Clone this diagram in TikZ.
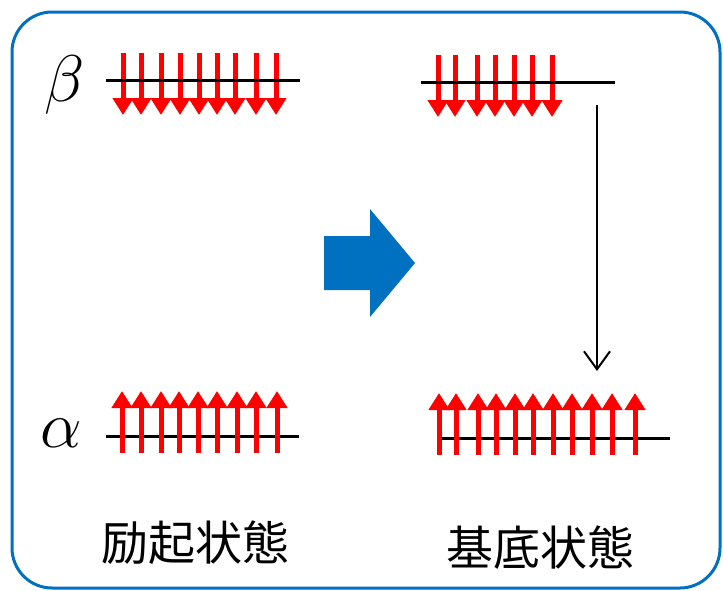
\RequirePackage{fix-cm}
\documentclass[tikz,border=0pt]{standalone}
\usepackage{fontspec}
\newfontfamily\cjk{Noto Sans CJK JP}
\usetikzlibrary{arrows.meta}
\definecolor{frameblue}{HTML}{0070C0}
\begin{document}
\begin{tikzpicture}[x=1pt,y=-1pt,
  spin/.style={red, line width=5pt, -{Triangle[width=20pt,length=17pt]}},
  level/.style={black, line width=3pt},
  lbl/.style={font=\cjk\fontsize{47}{47}\selectfont, inner sep=0pt},
  sym/.style={font=\fontsize{66}{66}\selectfont, inner sep=0pt},
  transition/.style={black, line width=2pt, -{Straight Barb[length=18pt,width=26pt]}}]
\useasboundingbox (0,0) rectangle (723,590);
\draw[frameblue, line width=3pt, rounded corners=40pt] (12,12) rectangle (720,588);

% beta excited level
\foreach \x in {123,141,161,180,199,217,235,256,276}
  \draw[spin] (\x,53) -- (\x,115);
\coordinate (bL1) at (106,80);
\coordinate (bR1) at (300,80);
\draw[level] (bL1) -- (bR1);

% beta ground level
\foreach \x in {438,455,477,495,514,532,552}
  \draw[spin] (\x,55) -- (\x,117);
\coordinate (bL2) at (421,82);
\coordinate (bR2) at (615,82);
\draw[level] (bL2) -- (bR2);

% alpha excited level
\coordinate (aL1) at (106,436);
\coordinate (aR1) at (299,436);
\draw[level] (aL1) -- (aR1);
\foreach \x in {122,141,161,179,198,217,237,256,277}
  \draw[spin] (\x,453) -- (\x,391);

% alpha ground level
\coordinate (aL2) at (441,438);
\coordinate (aR2) at (670,438);
\draw[level] (aL2) -- (aR2);
\foreach \x in {439,456,478,496,515,533,553,572,592,612,635}
  \draw[spin] (\x,455) -- (\x,393);

% symbols
\node[sym] (beta) at (65,85) {$\beta$};
\node[sym] (alpha) at (61,433) {$\alpha$};

% big blue arrow
\fill[frameblue] (324,236) -- (370,236) -- (370,209) -- (415,263) -- (370,317) -- (370,290) -- (324,290) -- cycle;

% transition arrow
\coordinate (tTop) at (597,105);
\coordinate (tBot) at (597,371);
\draw[transition] (tTop) -- (tBot);

% labels
\node[lbl] (exc) at (195,543) {励起状態};
\node[lbl] (gnd) at (540,548) {基底状態};
\end{tikzpicture}
\end{document}
